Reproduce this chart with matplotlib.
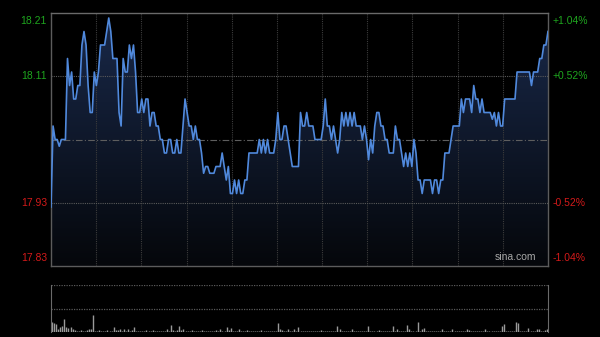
import numpy as np
import matplotlib.pyplot as plt
from matplotlib.colors import LinearSegmentedColormap

# previous close and intraday minute prices
prev_close = 18.02
prices = [
    17.92, 18.04, 18.02, 18.02, 18.01, 18.02, 18.02, 18.02, 18.14, 18.10,
    18.12, 18.08, 18.08, 18.10, 18.10, 18.16, 18.18, 18.16, 18.10, 18.06,
    18.06, 18.12, 18.10, 18.12, 18.16, 18.16, 18.16, 18.18, 18.20, 18.18,
    18.14, 18.14, 18.14, 18.06, 18.04, 18.14, 18.12, 18.12, 18.16, 18.14,
    18.16, 18.12, 18.06, 18.06, 18.08, 18.06, 18.08, 18.08, 18.04, 18.06,
    18.06, 18.04, 18.04, 18.02, 18.02, 18.00, 18.00, 18.02, 18.02, 18.00,
    18.00, 18.02, 18.00, 18.00, 18.04, 18.08, 18.06, 18.04, 18.04, 18.02,
    18.04, 18.02, 18.02, 18.00, 17.97, 17.98, 17.98, 17.97, 17.97, 17.97,
    17.98, 17.98, 17.98, 18.00, 17.98, 17.96, 17.98, 17.94, 17.94, 17.96,
    17.94, 17.96, 17.94, 17.94, 17.96, 17.96, 18.00, 18.00, 18.00, 18.00,
    18.00, 18.02, 18.00, 18.02, 18.00, 18.02, 18.00, 18.00, 18.00, 18.02,
    18.06, 18.02, 18.02, 18.04, 18.04, 18.02, 18.00, 17.98, 17.98, 17.98,
    17.98, 18.06, 18.04, 18.04, 18.06, 18.04, 18.04, 18.04, 18.02, 18.02,
    18.02, 18.02, 18.04, 18.08, 18.04, 18.04, 18.02, 18.04, 18.02, 18.00,
    18.02, 18.06, 18.04, 18.06, 18.04, 18.06, 18.04, 18.06, 18.04, 18.04,
    18.04, 18.02, 18.04, 18.02, 17.99, 18.02, 18.00, 18.04, 18.06, 18.06,
    18.04, 18.04, 18.02, 18.02, 18.00, 18.00, 18.00, 18.04, 18.02, 18.02,
    18.00, 17.98, 18.00, 17.98, 18.00, 17.98, 18.02, 18.00, 17.96, 17.96,
    17.94, 17.96, 17.96, 17.96, 17.96, 17.94, 17.96, 17.96, 17.94, 17.96,
    17.96, 18.00, 18.00, 18.00, 18.02, 18.04, 18.04, 18.04, 18.04, 18.08,
    18.06, 18.08, 18.08, 18.08, 18.06, 18.10, 18.08, 18.08, 18.06, 18.08,
    18.06, 18.06, 18.06, 18.06, 18.05, 18.06, 18.04, 18.06, 18.04, 18.04,
    18.08, 18.08, 18.08, 18.08, 18.08, 18.08, 18.12, 18.12, 18.12, 18.12,
    18.12, 18.12, 18.12, 18.10, 18.12, 18.12, 18.12, 18.14, 18.14, 18.16,
    18.16, 18.18,
]

# minute volumes (relative)
volumes = [
    10, 9, 8, 3, 5, 6, 13, 5, 4, 5, 3, 2, 1, 1, 2, 1, 1, 2, 3, 3,
    17, 1, 1, 2, 1, 1, 1, 2, 1, 1, 5, 2, 2, 3, 1, 3, 1, 3, 1, 2,
    5, 1, 1, 1, 1, 1, 2, 1, 1, 2, 1, 1, 1, 1, 1, 1, 3, 1, 7, 2,
    1, 2, 6, 2, 3, 1, 1, 1, 2, 1, 1, 1, 1, 2, 1, 1, 1, 1, 1, 1,
    2, 1, 3, 1, 1, 5, 2, 4, 1, 1, 1, 3, 1, 1, 1, 2, 1, 1, 1, 1,
    1, 1, 2, 1, 1, 1, 1, 1, 1, 1, 9, 3, 2, 1, 1, 3, 1, 1, 3, 1,
    5, 1, 1, 1, 1, 1, 1, 1, 1, 1, 1, 2, 1, 1, 1, 1, 1, 1, 1, 6,
    3, 1, 1, 1, 1, 1, 3, 1, 1, 1, 1, 1, 1, 1, 6, 1, 1, 1, 1, 2,
    1, 1, 1, 1, 1, 1, 6, 1, 3, 1, 1, 1, 1, 7, 3, 1, 1, 1, 10, 1,
    3, 4, 1, 1, 1, 1, 1, 1, 1, 1, 3, 1, 1, 1, 1, 3, 1, 1, 1, 1,
    1, 1, 3, 2, 1, 1, 1, 1, 1, 1, 1, 3, 1, 1, 1, 1, 1, 1, 1, 6,
    8, 1, 1, 1, 1, 1, 10, 9, 1, 1, 1, 1, 4, 1, 1, 1, 3, 3, 1, 1,
    2, 3,
]

left_labels = ["18.21", "18.11", "17.93", "17.83"]
right_labels = ["+1.04%", "+0.52%", "-0.52%", "-1.04%"]
label_pcts = [1.04, 0.52, -0.52, -1.04]

plt.rcParams['font.family'] = ['Liberation Sans', 'DejaVu Sans']

fig = plt.figure(figsize=(6, 3.37), dpi=100, facecolor='black')

# ---- price panel ----
ax = fig.add_axes([0.085, 0.2107, 0.8283, 0.7507])
ax.set_facecolor('black')
x = np.arange(len(prices))
ymin = prev_close * (1 - 0.0104)
ymax = prev_close * (1 + 0.0104)
ax.set_xlim(0, len(prices) - 1)
ax.set_ylim(ymin, ymax)

# gradient fill under the line
cmap = LinearSegmentedColormap.from_list('fill', ['#05070b', '#19294a'])
grad = np.linspace(0, 1, 256).reshape(-1, 1)
img = ax.imshow(grad, cmap=cmap, aspect='auto', origin='lower',
                extent=[0, len(prices) - 1, ymin, ymax], zorder=1)
poly = ax.fill_between(x, prices, ymin, color='none', lw=0)
img.set_clip_path(poly.get_paths()[0], ax.transData)

# grid
for gx in np.linspace(0, len(prices) - 1, 12)[1:-1]:
    ax.axvline(gx, color='#3c3c3c', lw=0.8, ls=(0, (1, 1)), zorder=2)
for p in [0.52, -0.52]:
    ax.axhline(prev_close * (1 + p / 100), color='#5a5a5a', lw=0.8,
               ls=(0, (1, 1)), zorder=2)
ax.axhline(prev_close, color='#5e5e5e', lw=0.8, ls=(0, (6, 2, 1, 2)), zorder=2)

ax.plot(x, prices, color='#5089dc', lw=1.2, zorder=3)

for s in ax.spines.values():
    s.set_color('#5c5c5c')
    s.set_linewidth(1.0)
ax.spines['top'].set_color('#6a6a6a')
ax.set_xticks([])
ax.set_yticks([])

# axis labels
for i, (lt, rt, p) in enumerate(zip(left_labels, right_labels, label_pcts)):
    yv = prev_close * (1 + p / 100)
    col = '#1ea51e' if p > 0 else '#d41a1a'
    va = 'center'
    if i == 0:
        va = 'top'
        yv = yv - 0.004
    elif i == len(left_labels) - 1:
        va = 'bottom'
        yv = yv + 0.004
    ax.text(-0.008, yv, lt, transform=ax.get_yaxis_transform(),
            ha='right', va=va, color=col, fontsize=7.5)
    ax.text(1.01, yv, rt, transform=ax.get_yaxis_transform(),
            ha='left', va=va, color=col, fontsize=7.5)

ax.text(0.977, 0.015, "sina.com", transform=ax.transAxes, ha='right',
        va='bottom', color='#a8a8a8', fontsize=7.5, zorder=4)

# ---- volume panel ----
ax2 = fig.add_axes([0.085, 0.0148, 0.8283, 0.1395])
ax2.set_facecolor('black')
ax2.set_xlim(-0.5, len(prices) - 0.5)
ax2.set_ylim(0, 47)
ax2.vlines(x, 0, volumes, color='#9a9a9a', lw=1.0)
ax2.axhline(47, color='#5a5a5a', lw=0.9, ls=(0, (1, 1)))
ax2.axhline(23.5, color='#5a5a5a', lw=0.9, ls=(0, (1, 1)))
for k in ['left', 'right']:
    ax2.spines[k].set_color('#6a6a6a')
ax2.spines['top'].set_visible(False)
ax2.spines['bottom'].set_visible(False)
ax2.set_xticks([])
ax2.set_yticks([])

plt.savefig("out.png", dpi=100, facecolor='black')
